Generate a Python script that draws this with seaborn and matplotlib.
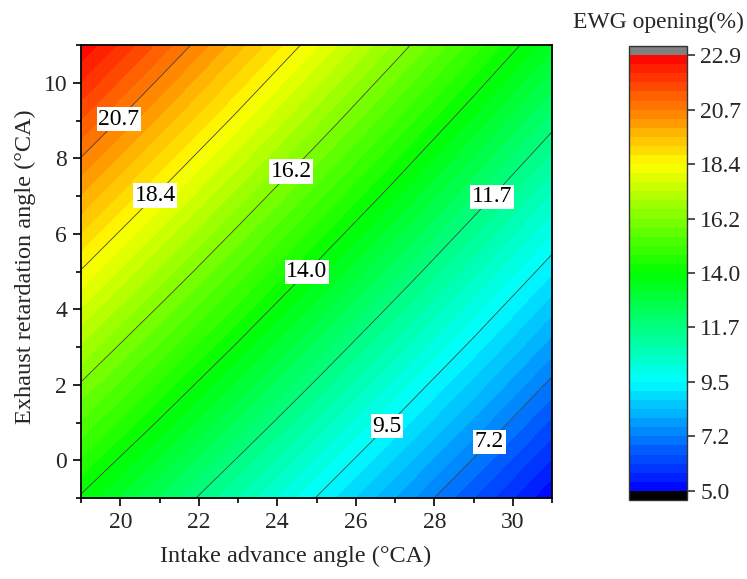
import numpy as np
import pandas as pd
import matplotlib
matplotlib.use("Agg")
import matplotlib.pyplot as plt
from matplotlib.colors import LinearSegmentedColormap
import seaborn as sns

# ---- data ----
intake_angle = [19, 21, 23, 25, 27, 29, 31]          # x (°CA)
exhaust_angle = [-1, 1, 3, 5, 7, 9, 11]              # y (°CA)
# EWG opening (%) rows = exhaust_angle, cols = intake_angle
ewg_row_m1 = [13.87, 12.40, 10.92, 9.45, 7.97, 6.50, 5.02]
ewg_row_1 = [15.38, 13.88, 12.38, 10.89, 9.39, 7.90, 6.40]
ewg_row_3 = [16.88, 15.36, 13.85, 12.33, 10.81, 9.30, 7.78]
ewg_row_5 = [18.39, 16.85, 15.31, 13.77, 12.24, 10.70, 9.16]
ewg_row_7 = [19.89, 18.33, 16.77, 15.21, 13.66, 12.10, 10.54]
ewg_row_9 = [21.40, 19.82, 18.24, 16.66, 15.08, 13.50, 11.92]
ewg_row_11 = [22.85, 21.30, 19.70, 18.10, 16.50, 14.90, 13.30]

cbar_ticklabels = ["5.0", "7.2", "9.5", "11.7", "14.0", "16.2", "18.4", "20.7", "22.9"]
z_min, z_max = 5.0, 22.9

# ---- build table ----
rows = [ewg_row_m1, ewg_row_1, ewg_row_3, ewg_row_5, ewg_row_7, ewg_row_9, ewg_row_11]
df = pd.DataFrame(rows, index=exhaust_angle, columns=intake_angle)
X, Y = np.meshgrid(df.columns.values, df.index.values)
Z = df.values

sns.set_style("ticks")
plt.rcParams["font.family"] = ["Liberation Serif", "DejaVu Serif"]

cmap = LinearSegmentedColormap.from_list(
    "ewg", ["#0000ff", "#00ffff", "#00ff00", "#ffff00", "#ff0000"], N=256)
cmap.set_over("#808080")
cmap.set_under("#000000")

fill_levels = np.linspace(z_min, z_max, 49)
tick_levels = np.linspace(z_min, z_max, 9)
line_levels = tick_levels[1:-1]

fig = plt.figure(figsize=(7.47, 5.79), dpi=100)
ax = fig.add_axes([81 / 747, 1 - 498 / 579, (552 - 81) / 747, (498 - 45) / 579])
cax = fig.add_axes([629 / 747, 1 - 500 / 579, 58 / 747, (500 - 46) / 579])

cf = ax.contourf(X, Y, Z, levels=fill_levels, cmap=cmap, extend="both")
cs = ax.contour(X, Y, Z, levels=line_levels, colors="#444444", linewidths=0.6)

fmt = {lv: lab for lv, lab in zip(line_levels, cbar_ticklabels[1:-1])}
label_pos = [(29.5, 0.4), (26.8, 0.9), (29.5, 6.95), (24.75, 5.0),
             (24.4, 7.6), (21.0, 6.9), (20.0, 9.0)]
labels = ax.clabel(cs, inline=False, fmt=fmt, fontsize=17, manual=label_pos)
for t in labels:
    t.set_rotation(0)
    t.set_bbox(dict(facecolor="white", edgecolor="none", pad=1.2))
    t.set_color("black")

ax.set_xlim(19, 31)
ax.set_ylim(-1, 11)
ax.set_xticks([20, 22, 24, 26, 28, 30])
ax.set_xticks([19, 21, 23, 25, 27, 29, 31], minor=True)
ax.set_yticks([0, 2, 4, 6, 8, 10])
ax.set_yticks([-1, 1, 3, 5, 7, 9, 11], minor=True)
ax.tick_params(axis="both", which="major", direction="out", length=6, width=1.2,
               labelsize=17, color="black", pad=4)
ax.tick_params(axis="both", which="minor", direction="out", length=3.5, width=1.2,
               color="black")
for s in ax.spines.values():
    s.set_linewidth(1.3)
    s.set_color("black")
ax.set_xlabel("Intake advance angle (°CA)", fontsize=17.5, labelpad=10)
ax.set_ylabel("Exhaust retardation angle (°CA)", fontsize=17.5, labelpad=6)
ax.xaxis.set_label_coords(0.456, -0.105)
ax.yaxis.set_label_coords(-0.095, 0.51)

cbar = fig.colorbar(cf, cax=cax, extend="both", extendrect=True, extendfrac=0.021,
                    ticks=tick_levels)
cbar.set_ticklabels(cbar_ticklabels)
cbar.ax.tick_params(labelsize=17, direction="out", length=6, width=1.2, color="#333333")
cbar.outline.set_linewidth(1.0)
cbar.outline.set_edgecolor("#333333")
cbar.ax.minorticks_off()
fig.text(658 / 747, 1 - 22 / 579, "EWG opening(%)", ha="center", va="center", fontsize=17)

fig.savefig("out.png", dpi=100)
